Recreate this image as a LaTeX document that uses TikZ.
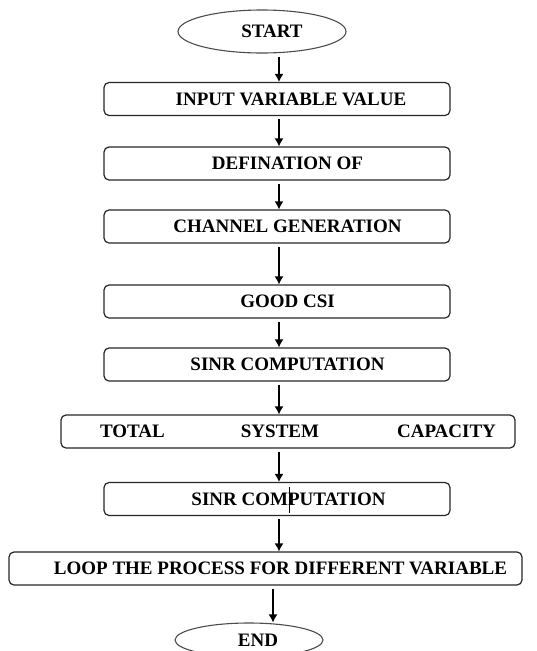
\documentclass[tikz,border=0pt]{standalone}
\usepackage{fontspec}
\setmainfont{Liberation Serif}
\usetikzlibrary{shapes.geometric,arrows.meta}
\begin{document}
\begin{tikzpicture}[x=1pt,y=-1pt,
  every node/.style={font=\fontsize{19}{22}\selectfont\bfseries},
  stepbox/.style={draw=black!85, rounded corners=5pt, line width=1.2pt,
    minimum height=33pt, minimum width=346pt, inner sep=0pt},
  term/.style={draw=black!70, ellipse, line width=1.1pt, inner sep=0pt},
  word/.style={inner sep=0pt},
  flow/.style={-{Latex[length=8pt,width=9pt]}, line width=1.3pt, shorten <=3pt}]
\useasboundingbox (0,0) rectangle (537,651);

% terminals and process boxes (\hspace* moves the label to the right)
\node[term, minimum width=168pt, minimum height=43pt] (start) at (262,31.5) {\hspace*{20pt}START};
\node[stepbox] (input) at (277,99)    {\hspace*{28pt}INPUT VARIABLE VALUE};
\node[stepbox] (def)   at (277,163.5) {\hspace*{21pt}DEFINATION OF};
\node[stepbox] (chan)  at (277,226.5) {\hspace*{21pt}CHANNEL GENERATION};
\node[stepbox] (good)  at (277,301.5) {\hspace*{21pt}GOOD CSI};
\node[stepbox] (sinra) at (277,364.5) {\hspace*{21pt}SINR COMPUTATION};
\node[stepbox, minimum width=454pt] (tsc) at (288,431.5) {};
\node[word] at (132.5,431.5) {TOTAL};
\node[word] at (280,431.5)   {SYSTEM};
\node[word] at (446.5,431.5) {CAPACITY};
\node[stepbox] (sinrb) at (277,499)   {\hspace*{23pt}SINR COMPUTATION};
\node[stepbox, minimum width=513pt] (loop) at (265.5,568.5)
  {\hspace*{30pt}LOOP THE PROCESS FOR DIFFERENT VARIABLE};
\node[term, minimum width=148pt, minimum height=34pt] (end) at (249,640) {\hspace*{18pt}END};

% vertical line positions of the arrows
\coordinate (ax) at (279,0);
\coordinate (ex) at (273,0);

\draw[flow] (start.south -| ax) -- (input.north -| ax);
\draw[flow] (input.south -| ax) -- (def.north -| ax);
\draw[flow] (def.south -| ax)   -- (chan.north -| ax);
\draw[flow] (chan.south -| ax)  -- (good.north -| ax);
\draw[flow] (good.south -| ax)  -- (sinra.north -| ax);
\draw[flow] (sinra.south -| ax) -- (tsc.north -| ax);
\draw[flow] (tsc.south -| ax)   -- (sinrb.north -| ax);
\draw[flow] (sinrb.south -| ax) -- (loop.north -| ax);
\draw[flow] (loop.south -| ex)  -- (end.north -| ex);

% short tick crossing the top of the second SINR box
\coordinate (tk1) at (289,487);
\coordinate (tk2) at (289,513);
\draw[line width=0.8pt] (tk1) -- (tk2);
\end{tikzpicture}
\end{document}
